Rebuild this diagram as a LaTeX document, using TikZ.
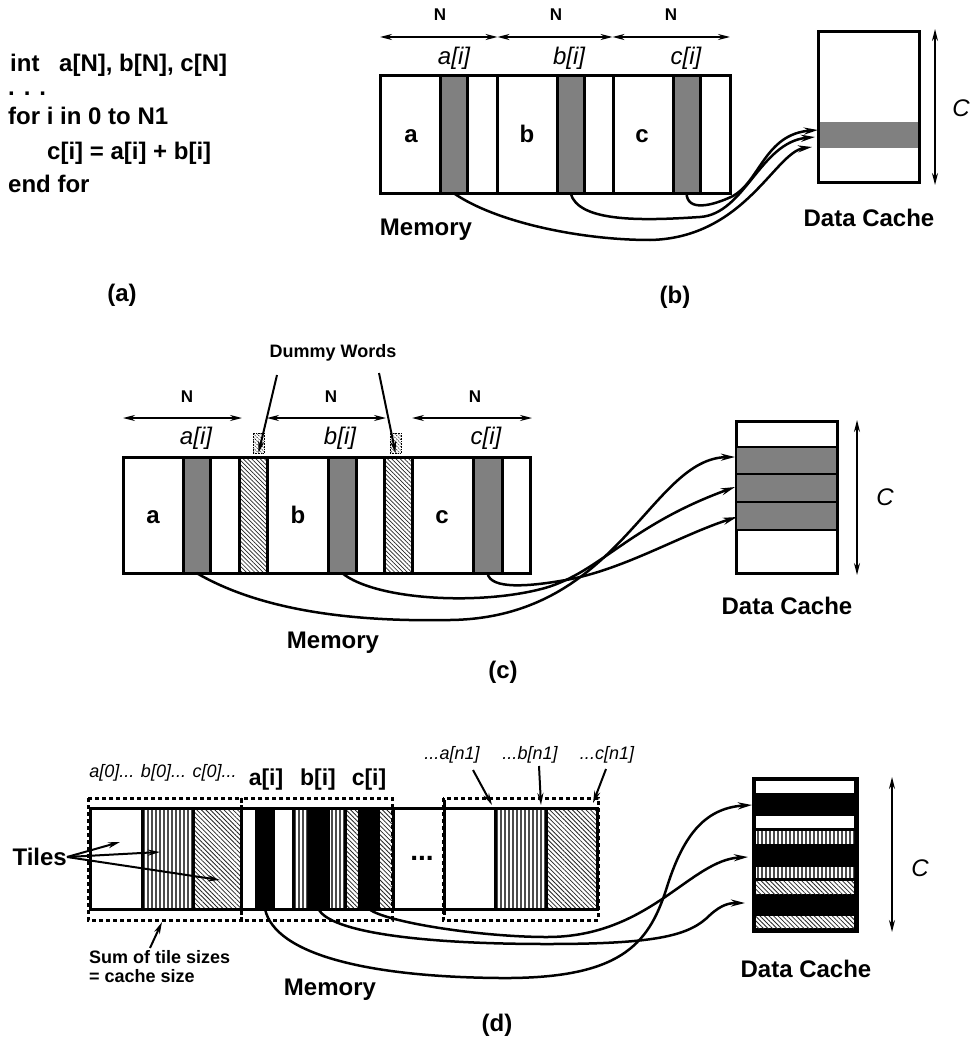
\documentclass[tikz,border=0pt]{standalone}
\usepackage{fontspec}
\setmainfont{Liberation Sans}
\usetikzlibrary{arrows.meta,patterns.meta}
\definecolor{cellgray}{gray}{0.5}
% rectangle node given by its two corners: style, name, x1, y1, x2, y2
\newcommand\cell[6]{\node[#1,anchor=north west,minimum width={(#5)-(#3)},minimum height={(#6)-(#4)}] (#2) at (#3,#4) {};}
% vertical hatching clipped to a rectangle: x1, y1, x2, y2
\newcommand\vlines[4]{\begin{scope}\clip (#1,#2) rectangle (#3,#4);
  \foreach \hx in {0,4,...,100} \draw[line width=1.2pt,black!70] ({#1+2+\hx},#2) -- ({#1+2+\hx},#4);
  \end{scope}}
\tikzset{
  memcell/.style={draw,line width=3pt,fill=white,inner sep=0pt,outer sep=0pt},
  hotcell/.style={draw,line width=3pt,fill=cellgray,inner sep=0pt,outer sep=0pt},
  grayband/.style={fill=cellgray,inner sep=0pt,outer sep=0pt},
  lineband/.style={draw,line width=2.5pt,fill=cellgray,inner sep=0pt,outer sep=0pt},
  padcell/.style={draw,line width=3pt,preaction={fill=white},pattern={Lines[angle=-45,distance=3pt,line width=0.7pt]},pattern color=black!85,inner sep=0pt,outer sep=0pt},
  padmark/.style={draw,densely dotted,line width=0.6pt,preaction={fill=white},pattern={Lines[angle=-45,distance=2.5pt,line width=0.6pt]},inner sep=0pt,outer sep=0pt},
  blankcell/.style={fill=white,inner sep=0pt,outer sep=0pt},
  inkcell/.style={fill=black,inner sep=0pt,outer sep=0pt},
  dcell/.style={preaction={fill=white},pattern={Lines[angle=-45,distance=3.2pt,line width=0.8pt]},pattern color=black!85,inner sep=0pt,outer sep=0pt},
  darkcache/.style={draw,line width=3pt,fill=black,inner sep=0pt,outer sep=0pt},
  codeline/.style={font=\fontsize{24}{28}\selectfont\bfseries,inner sep=0pt,anchor=base west},
  biglab/.style={font=\fontsize{24}{28}\selectfont\bfseries,inner sep=0pt},
  letterlab/.style={font=\fontsize{24}{28}\selectfont\bfseries,inner sep=0pt,anchor=base},
  bigit/.style={font=\fontsize{24}{28}\selectfont\itshape,inner sep=0pt},
  midlab/.style={font=\fontsize{18}{20}\selectfont\bfseries,inner sep=0pt},
  midit/.style={font=\fontsize{18}{20}\selectfont\itshape,inner sep=0pt},
  nlab/.style={font=\fontsize{17}{20}\selectfont\bfseries,inner sep=0pt},
  dimline/.style={line width=1.5pt,{Stealth[length=12pt,width=6pt]}-{Stealth[length=12pt,width=6pt]}},
  flow/.style={line width=2.5pt,-{Stealth[length=14pt,width=7pt]}},
  pointer/.style={line width=2pt,-{Stealth[length=12pt,width=6pt]}},
  tiledash/.style={line width=3pt,dash pattern=on 4pt off 3pt},
  frameline/.style={line width=3pt},
}
\begin{document}
\begin{tikzpicture}[x=1pt,y=-1pt]
\useasboundingbox (0,0) rectangle (976,1043);
\fill[white] (0,0) rectangle (976,1043);

% ---------------- (a) source loop ----------------
\node[codeline] (l1a) at (10,72) {int};
\node[codeline] (l1b) at (59,72) {a[N], b[N], c[N]};
\node[codeline] (l2) at (8,96) {. . .};
\node[codeline] (l3) at (8,125) {for i in 0 to N1};
\node[codeline] (l4) at (47,160) {c[i] = a[i] + b[i]};
\node[codeline] (l5) at (8,193) {end for};
\node[biglab] (capa) at (122,295) {(a)};

% ---------------- (b) plain layout ----------------
\cell{memcell}{ba}{380}{76}{497}{193}
\cell{memcell}{bb}{497}{76}{613}{193}
\cell{memcell}{bc}{613}{76}{730}{193}
\cell{hotcell}{bsa}{440}{76}{467}{193}
\cell{hotcell}{bsb}{557}{76}{584}{193}
\cell{hotcell}{bsc}{673}{76}{700}{193}
\node[letterlab] (bla) at (411,143) {a};
\node[letterlab] (blb) at (527,143) {b};
\node[letterlab] (blc) at (642,143) {c};
\coordinate (bd0) at (380,37);
\coordinate (bd1) at (497.5,37);
\coordinate (bd2) at (612.5,37);
\coordinate (bd3) at (730,37);
\draw[dimline] (bd0) -- (bd1);
\draw[dimline] (bd1) -- (bd2);
\draw[dimline] (bd2) -- (bd3);
\node[nlab] (bn1) at (440,15) {N};
\node[nlab] (bn2) at (556,15) {N};
\node[nlab] (bn3) at (671,15) {N};
\node[bigit] (bia) at (454,58) {a[i]};
\node[bigit] (bib) at (569,58) {b[i]};
\node[bigit] (bic) at (686,58) {c[i]};
\cell{memcell}{bcache}{818}{32}{919}{183}
\cell{grayband}{bline}{819.5}{122}{917.5}{148}
\coordinate (bct) at (935,29);
\coordinate (bcb) at (935,185);
\draw[dimline] (bct) -- (bcb);
\node[bigit] (bcl) at (961,108) {C};
\node[biglab] (bdc) at (869,218) {Data Cache};
\node[biglab] (bmem) at (426,230) {Memory};
\node[biglab] (capb) at (675,297) {(b)};
\coordinate (bt1) at (818,130);
\coordinate (bt2) at (815,137);
\coordinate (bt3) at (812,147);
\draw[flow] (bsc.south) .. controls (687,212) and (712,206) .. (733,196) .. controls (760,181) and (765,134) .. (bt1);
\draw[flow] (bsb.south) .. controls (578,222) and (640,221) .. (700,217) .. controls (745,214) and (760,142) .. (bt2);
\draw[flow] (bsa.south) .. controls (495,222) and (580,240) .. (650,240) .. controls (745,238) and (775,152) .. (bt3);

% ---------------- (c) padded layout ----------------
\node[midlab] (dwl) at (333,353) {Dummy Words};
\cell{memcell}{ca}{123}{457}{239}{573}
\cell{padcell}{cpa}{239}{457}{267}{573}
\cell{memcell}{cb}{267}{457}{384}{573}
\cell{padcell}{cpb}{384}{457}{412}{573}
\cell{memcell}{cc}{412}{457}{530}{573}
\cell{hotcell}{csa}{183}{457}{210}{573}
\cell{hotcell}{csb}{328}{457}{356}{573}
\cell{hotcell}{csc}{473}{457}{502}{573}
\cell{padmark}{cma}{253}{433}{264}{453}
\cell{padmark}{cmb}{390}{433}{401}{453}
\coordinate (dw1) at (277,375);
\coordinate (dw2) at (379,373);
\draw[pointer] (dw1) -- (cma.south);
\draw[pointer] (dw2) -- (cmb.south);
\node[letterlab] (cla) at (153,523) {a};
\node[letterlab] (clb) at (298,523) {b};
\node[letterlab] (clc) at (442,523) {c};
\coordinate (cd0) at (123,418);
\coordinate (cd1) at (242,418);
\coordinate (cd2) at (267,418);
\coordinate (cd3) at (386,418);
\coordinate (cd4) at (412,418);
\coordinate (cd5) at (532,418);
\draw[dimline] (cd0) -- (cd1);
\draw[dimline] (cd2) -- (cd3);
\draw[dimline] (cd4) -- (cd5);
\node[nlab] (cn1) at (187,397) {N};
\node[nlab] (cn2) at (331,397) {N};
\node[nlab] (cn3) at (475,397) {N};
\node[bigit] (cia) at (196,438) {a[i]};
\node[bigit] (cib) at (340,438) {b[i]};
\node[bigit] (cic) at (486,438) {c[i]};
\cell{memcell}{ccache}{736}{421}{837}{573}
\cell{lineband}{cl1}{736}{447}{837}{474}
\cell{lineband}{cl2}{736}{474}{837}{502}
\cell{lineband}{cl3}{736}{502}{837}{530}
\coordinate (cct) at (857,420);
\coordinate (ccb) at (857,575);
\draw[dimline] (cct) -- (ccb);
\node[bigit] (ccl) at (885,497) {C};
\node[biglab] (cdc) at (787,606) {Data Cache};
\node[biglab] (cmem) at (333,643) {Memory};
\node[biglab] (capc) at (503,672) {(c)};
\coordinate (ct1) at (735,457);
\coordinate (ct2) at (735,487);
\coordinate (ct3) at (737,517);
\draw[flow] (csa.south) .. controls (260,610) and (350,622) .. (450,620) .. controls (620,618) and (650,458) .. (ct1);
\draw[flow] (csb.south) .. controls (375,600) and (480,606) .. (545,588) .. controls (600,572) and (630,525) .. (ct2);
\draw[flow] (csc.south) .. controls (490,590) and (530,586) .. (560,581) .. controls (620,572) and (680,535) .. (ct3);

% ---------------- (d) tiled layout ----------------
\cell{blankcell}{d1w}{90}{808}{142}{909}
\cell{blankcell}{d1v}{142}{808}{193}{909}
\cell{dcell}{d1d}{193}{808}{241}{909}
\cell{blankcell}{d2w1}{241}{808}{255}{909}
\cell{inkcell}{dsa}{255}{808}{275}{909}
\cell{blankcell}{d2w2}{275}{808}{293}{909}
\cell{blankcell}{d2v1}{293}{808}{307}{909}
\cell{inkcell}{dsb}{307}{808}{330}{909}
\cell{blankcell}{d2v2}{330}{808}{345}{909}
\cell{dcell}{d2d1}{345}{808}{358}{909}
\cell{inkcell}{dsc}{358}{808}{380}{909}
\cell{dcell}{d2d2}{380}{808}{393}{909}
\cell{blankcell}{dgap}{393}{808}{444}{909}
\cell{blankcell}{d3w}{444}{808}{495}{909}
\cell{blankcell}{d3v}{495}{808}{546}{909}
\cell{dcell}{d3d}{546}{808}{597}{909}
\vlines{142}{808}{193}{909}
\vlines{293}{808}{307}{909}
\vlines{330}{808}{345}{909}
\vlines{495}{808}{546}{909}
\draw[frameline] (90,808) rectangle (597,909);
\foreach \xx in {142,193,241,293,345,393,495,546}
  \draw[frameline] (\xx,808) -- (\xx,909);
\draw[frameline] (444,800) -- (444,915);
\draw[tiledash] (88,798) rectangle (241,920);
\draw[tiledash] (241,798) rectangle (392,920);
\draw[tiledash] (443,798) rectangle (598,920);
\node[font=\fontsize{28}{30}\selectfont\bfseries,inner sep=0pt,anchor=base] (ddots) at (422,860) {...};
\node[midit] (d0l) at (163,773) {a[0]... b[0]... c[0]...};
\node[font=\fontsize{23}{26}\selectfont\bfseries,inner sep=0pt] (dia) at (266,780) {a[i]};
\node[font=\fontsize{23}{26}\selectfont\bfseries,inner sep=0pt] (dib) at (318,780) {b[i]};
\node[font=\fontsize{23}{26}\selectfont\bfseries,inner sep=0pt] (dic) at (369,780) {c[i]};
\node[midit] (dna) at (452,755) {...a[n1]};
\node[midit] (dnb) at (530,755) {...b[n1]};
\node[midit] (dnc) at (607,755) {...c[n1]};
\coordinate (dpa) at (492,805);
\coordinate (dpb) at (541,805);
\coordinate (dpc) at (593,803);
\draw[pointer] (473,770) -- (dpa);
\draw[pointer] (539,766) -- (dpb);
\draw[pointer] (606,769) -- (dpc);
\node[biglab,anchor=east] (tiles) at (67,857) {Tiles};
\coordinate (tp1) at (120,842);
\coordinate (tp2) at (160,852);
\coordinate (tp3) at (220,880);
\draw[pointer] (tiles.east) -- (tp1);
\draw[pointer] (tiles.east) -- (tp2);
\draw[pointer] (tiles.east) -- (tp3);
\node[midlab,anchor=north west,align=left,font=\fontsize{18}{19}\selectfont\bfseries] (sumlab) at (89,950) {Sum of tile sizes\\= cache size};
\coordinate (sump) at (162,922);
\draw[pointer] (150,948) -- (sump);
\node[biglab] (dmem) at (330,990) {Memory};
\node[biglab] (capd) at (497,1025) {(d)};
\cell{darkcache}{dcache}{753}{778}{857}{931}
\cell{blankcell}{dk1}{756}{781}{854}{793}
\cell{blankcell}{dk2}{756}{816}{854}{828}
\cell{blankcell}{dk3}{756}{831}{854}{844}
\cell{blankcell}{dk4}{756}{867}{854}{878}
\cell{dcell}{dk5}{756}{881}{854}{894}
\cell{dcell}{dk6}{756}{916}{854}{928}
\vlines{756}{831}{854}{844}
\vlines{756}{867}{854}{878}
\coordinate (dct) at (892,777);
\coordinate (dcb) at (892,932);
\draw[dimline] (dct) -- (dcb);
\node[bigit] (dcl) at (920,868) {C};
\node[biglab] (ddc) at (806,969) {Data Cache};
\coordinate (dt1) at (752,805);
\coordinate (dt2) at (748,857);
\coordinate (dt3) at (745,903);
\draw[flow] (dsa.south) .. controls (275,955) and (370,977) .. (500,978) .. controls (620,979) and (648,945) .. (666,890) .. controls (682,838) and (703,808) .. (dt1);
\draw[flow] (dsc.south) .. controls (385,922) and (480,937) .. (547,937) .. controls (650,937) and (690,860) .. (dt2);
\draw[flow] (dsb.south) .. controls (330,932) and (420,944) .. (547,944) .. controls (660,944) and (690,935) .. (710,915) .. controls (722,904) and (730,903) .. (dt3);
\end{tikzpicture}
\end{document}
